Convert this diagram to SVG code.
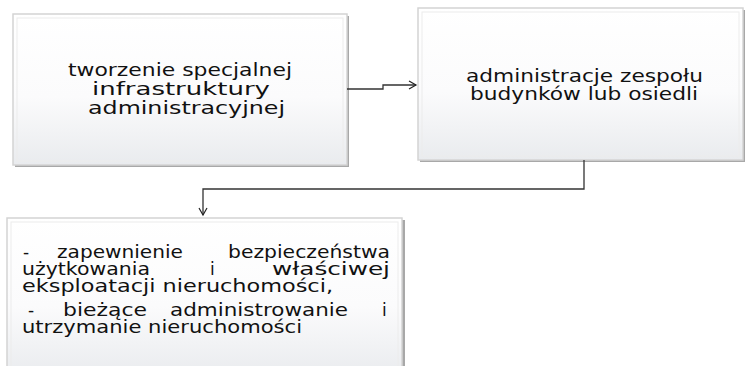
<svg xmlns="http://www.w3.org/2000/svg" width="745" height="366" viewBox="0 0 745 366">
<defs>
<linearGradient id="g" x1="0" y1="0" x2="0" y2="1">
<stop offset="0" stop-color="#ffffff"/>
<stop offset="0.55" stop-color="#fbfbfc"/>
<stop offset="1" stop-color="#e9ebee"/>
</linearGradient>
<marker id="arr" markerWidth="10" markerHeight="10" refX="8" refY="5" orient="auto" markerUnits="userSpaceOnUse">
<path d="M1,1 L8,5 L1,9" fill="none" stroke="#222" stroke-width="1.2"/>
</marker>
</defs>
<style>
.shadow{fill:#a8a8a8;}
.box{fill:url(#g);stroke:#d4d4d4;stroke-width:1.5;}
.inner{fill:none;stroke:#ececec;stroke-width:1;}
.t{font-family:"DejaVu Sans",Verdana,sans-serif;font-size:17px;fill:#111;}
.con{fill:none;stroke:#333;stroke-width:1.3;}
</style>
<rect width="745" height="366" fill="#ffffff"/>
<g id="n1">
<rect class="shadow" x="15" y="16" width="334" height="151"/>
<rect class="box" x="13" y="14" width="334" height="151"/>
<rect class="inner" x="17" y="18" width="326" height="143"/>
<text class="t" x="68" y="76" textLength="224" lengthAdjust="spacingAndGlyphs">tworzenie specjalnej</text>
<text class="t" x="92" y="95" textLength="178" lengthAdjust="spacingAndGlyphs">infrastruktury</text>
<text class="t" x="88" y="114" textLength="197" lengthAdjust="spacingAndGlyphs">administracyjnej</text>
</g>
<g id="n2">
<rect class="shadow" x="420" y="10" width="327" height="152"/>
<rect class="box" x="418" y="8" width="325" height="152"/>
<rect class="inner" x="422" y="12" width="317" height="144"/>
<text class="t" x="466" y="82" textLength="237" lengthAdjust="spacingAndGlyphs">administracje zespołu</text>
<text class="t" x="470" y="100" textLength="228" lengthAdjust="spacingAndGlyphs">budynków lub osiedli</text>
</g>
<g id="n3">
<rect class="shadow" x="9" y="220" width="396" height="160"/>
<rect class="box" x="7" y="218" width="395" height="160"/>
<rect class="inner" x="11" y="222" width="387" height="160"/>
<text class="t" y="258"><tspan x="23">-</tspan><tspan x="57" textLength="126" lengthAdjust="spacingAndGlyphs">zapewnienie</tspan><tspan x="228" textLength="162" lengthAdjust="spacingAndGlyphs">bezpieczeństwa</tspan></text>
<text class="t" y="275"><tspan x="22" textLength="128" lengthAdjust="spacingAndGlyphs">użytkowania</tspan><tspan x="210">i</tspan><tspan x="272" textLength="118" lengthAdjust="spacingAndGlyphs">właściwej</tspan></text>
<text class="t" x="22" y="292" textLength="311" lengthAdjust="spacingAndGlyphs">eksploatacji nieruchomości,</text>
<text class="t" y="316"><tspan x="28">-</tspan><tspan x="63" textLength="84" lengthAdjust="spacingAndGlyphs">bieżące</tspan><tspan x="170" textLength="178" lengthAdjust="spacingAndGlyphs">administrowanie</tspan><tspan x="382">i</tspan></text>
<text class="t" x="22" y="333" textLength="280" lengthAdjust="spacingAndGlyphs">utrzymanie nieruchomości</text>
</g>
<g id="connectors">
<path class="con" d="M347,89 H383 V85 H416" marker-end="url(#arr)"/>
<path class="con" d="M584,160 V189 H203 V215" marker-end="url(#arr)"/>
</g>
</svg>
